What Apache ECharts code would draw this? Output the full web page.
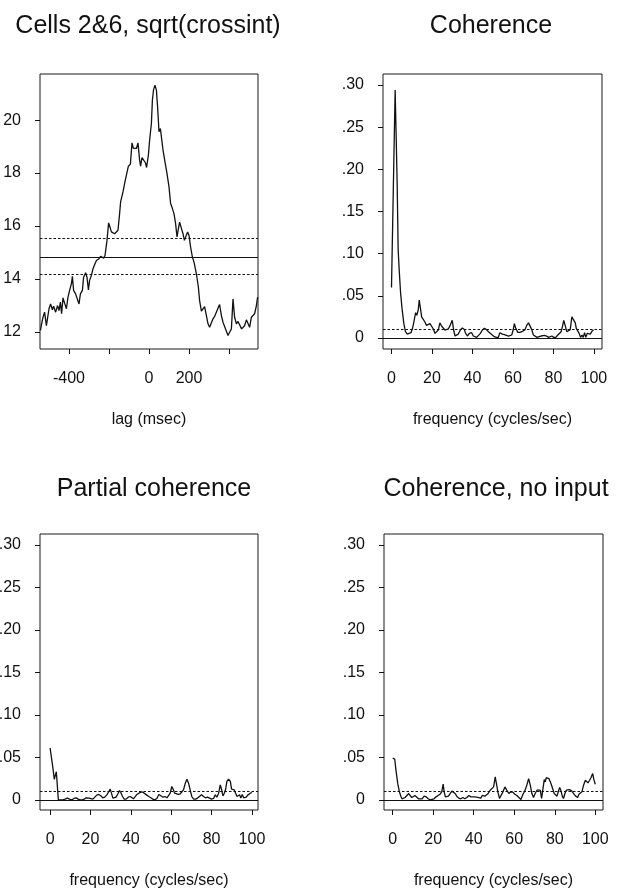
<!DOCTYPE html>
<html>
<head>
<meta charset="utf-8">
<script src="https://cdn.jsdelivr.net/npm/echarts@6/dist/echarts.min.js"></script>
<style>
html,body{margin:0;padding:0;background:#fff;}
#chart{width:619px;height:892px;}
</style>
</head>
<body>
<div id="chart"></div>
<script>
// ---------- DATA ----------
const titles = ['Cells 2&6, sqrt(crossint)', 'Coherence', 'Partial coherence', 'Coherence, no input'];
const lagName = 'lag (msec)';
const freqName = 'frequency (cycles/sec)';

// panel 1: sqrt(cross-intensity) vs lag (msec)
const crossint = [
[-543,12.06],[-530,12.56],[-522,12.75],[-513,12.24],[-500,12.88],[-492,13.06],[-483,12.84],[-477,12.98],[-467,12.75],[-457,13.00],
[-450,12.81],[-443,13.13],[-437,12.69],[-430,13.29],[-422,13.09],[-413,12.88],[-405,13.32],[-397,13.57],[-388,13.82],[-383,14.10],
[-377,13.57],[-367,13.44],[-358,13.51],[-350,13.06],[-343,13.44],[-333,13.57],[-327,14.07],[-317,14.24],[-310,14.07],[-303,13.59],
[-297,13.95],[-288,14.14],[-280,14.39],[-270,14.58],[-263,14.70],[-250,14.77],[-242,14.86],[-233,14.92],[-227,14.79],[-220,14.89],
[-210,15.46],[-202,16.12],[-195,15.96],[-188,15.78],[-180,15.84],[-172,15.71],[-163,15.65],[-155,15.84],[-147,16.47],[-142,16.91],
[-130,17.29],[-122,17.60],[-113,17.92],[-103,18.26],[-93,18.34],[-85,19.14],[-78,18.93],[-70,18.99],[-63,18.93],[-55,19.14],
[-47,18.49],[-42,18.26],[-35,18.58],[-27,18.51],[-18,18.39],[-12,18.21],[-3,18.68],[3,19.24],[12,19.87],[17,20.76],
[23,21.16],[30,21.32],[37,21.13],[43,20.50],[50,19.56],[57,19.68],[63,19.62],[70,18.87],[80,18.42],[90,17.98],
[100,17.48],[108,16.85],[117,16.66],[125,16.47],[133,16.09],[140,15.59],[147,15.90],[153,16.15],[162,16.19],[170,15.71],
[177,15.46],[185,15.52],[193,15.78],[200,15.65],[208,15.21],[217,14.83],[225,14.64],[237,14.20],[247,13.69],[253,13.19],
[262,12.79],[270,12.79],[278,12.96],[287,12.62],[295,12.31],[303,12.18],[312,12.18],[320,12.50],[328,12.59],[337,12.53],
[347,12.94],[353,13.04],[362,12.62],[370,12.37],[378,12.31],[387,12.03],[395,11.87],[403,11.99],[412,12.12],[420,13.25],
[428,12.56],[437,12.31],[445,12.40],[453,12.37],[463,12.12],[472,12.12],[478,12.24],[487,12.46],[495,12.41],[503,12.18],
[512,12.56],[520,12.52],[528,12.69],[537,13.00],[543,13.32]
];
const crossMean = 14.84;
const crossBand = [14.18, 15.54];

// panel 2: coherence vs frequency
const coherence = [
[0,0.060],[1.8,0.294],[2.3,0.240],[2.8,0.183],[3.3,0.104],[3.8,0.081],[4.5,0.053],[5.3,0.033],[6.1,0.017],[6.9,0.0075],
[7.8,0.0047],[8.7,0.0047],[9.6,0.0063],[10.4,0.0115],[11.2,0.021],[11.9,0.030],[12.5,0.027],[13.2,0.033],[13.7,0.045],[14.2,0.037],
[14.9,0.025],[15.7,0.023],[16.5,0.019],[17.3,0.015],[18.2,0.017],[19.0,0.017],[19.8,0.017],[20.6,0.011],[21.5,0.0055],[22.3,0.0032],
[23.1,0.0095],[23.9,0.018],[24.8,0.014],[25.6,0.016],[26.4,0.0095],[27.2,0.0075],[28.1,0.011],[29.0,0.015],[30.0,0.021],[30.7,0.0095],
[31.4,0.0024],[32.2,0.0016],[33.0,0.0047],[34.0,0.0095],[35.0,0.012],[36.0,0.010],[36.6,0.0055],[37.6,0.0024],[38.4,0.0055],[39.6,0.0063],
[40.4,0.0024],[41.3,0.0008],[42.1,0.0008],[42.9,0.0024],[43.9,0.0055],[44.9,0.0095],[45.9,0.0115],[46.9,0.010],[47.9,0.0075],[48.8,0.0055],
[49.8,0.0036],[50.8,0.0016],[51.8,0.0008],[52.8,0.0008],[53.5,0.0063],[54.1,0.0067],[54.8,0.0047],[55.8,0.004],[56.8,0.0032],[57.8,0.0024],
[58.6,0.0008],[59.4,0.0036],[60.1,0.0095],[60.7,0.017],[61.4,0.0115],[62.4,0.0067],[63.4,0.0067],[64.4,0.0075],[65.3,0.0075],[66.0,0.010],
[66.8,0.015],[67.7,0.018],[68.5,0.017],[69.3,0.010],[70.1,0.0036],[71.0,0.0016],[71.9,0.0008],[72.9,0.0016],[73.9,0.0024],[74.8,0.0047],
[75.6,0.0032],[76.6,0.0024],[77.6,0.0008],[78.4,0.0008],[79.2,0.0024],[80.2,0.0008],[81.2,0.0008],[82.2,0.0036],[82.8,0.004],[83.8,0.0075],
[84.5,0.014],[85.1,0.021],[85.8,0.015],[86.6,0.0075],[87.5,0.0055],[88.3,0.010],[89.1,0.025],[89.9,0.026],[90.8,0.018],[91.3,0.0115],
[91.9,0.0115],[92.7,0.0055],[93.4,0.0008],[94.1,0.0036],[94.7,0.0008],[95.4,0.0063],[96.0,0.0008],[96.7,0.0055],[97.4,0.0036],[98.2,0.0047],
[99.0,0.0079],[99.8,0.0095]
];

// panel 3: partial coherence
const partial = [
[0,0.061],[1.3,0.039],[2.1,0.024],[2.6,0.029],[3.1,0.033],[3.6,0.016],[4.1,0],[5.0,0],[6.3,0],[7.4,0.0008],
[8.6,0.002],[9.6,0.0008],[10.7,0],[11.9,0.0016],[12.9,0.0024],[13.9,0.0008],[14.9,0],[15.9,0],[16.9,0.0008],[17.9,0.0024],
[18.5,0.0047],[19.3,0.002],[20.2,0],[21.2,0.0008],[22.1,0.0031],[23.1,0.0055],[24.1,0.0063],[25.1,0.0047],[26.1,0.0024],[27.1,0.0031],
[28.1,0.0059],[29.1,0.0098],[29.8,0.0125],[30.4,0.0078],[31.1,0.002],[31.9,0.0008],[32.7,0.0031],[33.6,0.0071],[34.4,0.011],[35.0,0.0086],
[35.9,0.0039],[36.7,0.0008],[37.7,0.0008],[38.7,0.0031],[39.7,0.0039],[40.5,0.0024],[41.3,0.0012],[42.1,0.0031],[43.0,0.0063],[44.0,0.0078],
[45.0,0.009],[46.0,0.009],[46.9,0.0071],[47.9,0.0055],[48.9,0.0039],[49.9,0.0024],[50.9,0.0008],[51.9,0],[52.9,0.0016],[53.9,0.0063],
[54.9,0.0047],[55.9,0.0031],[56.9,0.0039],[57.9,0.0024],[58.7,0.0039],[59.5,0.0078],[60.3,0.0157],[61.0,0.0125],[61.7,0.0078],[62.5,0.0071],
[63.5,0.0063],[64.5,0.0071],[65.3,0.0086],[66.1,0.0118],[66.9,0.0188],[67.8,0.0243],[68.6,0.0196],[69.4,0.0118],[70.2,0.0039],[71.1,0.0008],
[72.1,0.0008],[73.1,0.002],[74.0,0.0031],[75.0,0.0059],[76.0,0.0039],[77.0,0.0024],[78.0,0.0031],[79.0,0.002],[80.0,0.0008],[81.0,0.0016],
[81.8,0.0059],[82.6,0.0031],[83.5,0.0078],[84.3,0.0176],[85.0,0.0118],[85.6,0.0047],[86.3,0.0078],[86.9,0.0118],[87.6,0.0216],[88.4,0.0243],
[89.3,0.0216],[89.9,0.0125],[90.6,0.0118],[91.2,0.0118],[91.9,0.0078],[92.6,0.0039],[93.2,0.002],[93.9,0.0059],[94.5,0.002],[95.2,0.0063],
[95.9,0.0024],[96.5,0.0047],[97.2,0.0031],[97.9,0.0055],[98.5,0.0071],[99.2,0.0078],[100,0.0086]
];

// panel 4: coherence, no input
const noInput = [
[0,0.049],[1.0,0.048],[1.6,0.035],[2.5,0.019],[3.3,0.0094],[4.0,0.0043],[4.6,0.0012],[5.3,0.0004],[6.1,0.0027],[6.9,0.0043],
[7.9,0.0074],[8.6,0.0051],[9.4,0.0027],[10.2,0.0043],[11.0,0.0051],[11.9,0.0035],[12.7,0.0012],[13.5,0.0004],[14.5,0.0012],[15.5,0.0043],
[16.5,0.0035],[17.5,0.0012],[18.5,0],[19.4,0],[20.4,0.0012],[21.4,0.0035],[22.4,0.0051],[23.4,0.0066],[24.2,0.0094],[24.9,0.0184],
[25.4,0.0094],[26.0,0.0035],[26.7,0.0043],[27.5,0.0043],[28.3,0.0066],[29.2,0.0102],[30.0,0.0098],[30.8,0.0074],[31.6,0.0043],[32.6,0.002],
[33.6,0.0012],[34.6,0.0027],[35.6,0.0012],[36.6,0.0027],[37.6,0.0051],[38.6,0.0035],[39.5,0.0027],[40.5,0.0035],[41.5,0.0031],[42.5,0.0027],
[43.5,0.002],[44.2,0.0051],[44.8,0.0074],[45.5,0.0043],[46.1,0.0035],[47.1,0.0074],[48.1,0.0113],[48.9,0.0113],[49.8,0.0152],[50.6,0.027],
[51.2,0.0191],[51.9,0.0094],[52.7,0.0016],[53.5,0.0035],[54.4,0.0094],[55.4,0.0152],[56.3,0.0113],[57.3,0.0074],[58.3,0.0094],[59.3,0.009],
[60.3,0.0066],[61.3,0.0051],[62.3,0.0027],[63.3,0.0004],[64.3,0.0066],[65.2,0.0105],[66.2,0.0172],[67.1,0.025],[67.9,0.0172],[68.7,0.0074],
[69.5,0.0027],[70.3,0.0074],[71.2,0.0113],[72.0,0.0129],[72.8,0.0113],[73.5,0.0016],[74.1,0.0035],[74.8,0.0238],[75.3,0.0211],[75.8,0.0262],
[76.4,0.0285],[77.1,0.025],[77.8,0.0211],[78.4,0.0172],[79.1,0.0121],[79.7,0.0074],[80.4,0.0055],[81.1,0.0043],[81.7,0.0094],[82.4,0.0145],
[83.0,0.0113],[83.7,0.0043],[84.3,0.0016],[85.0,0.0074],[85.7,0.0113],[86.5,0.0121],[87.3,0.0121],[88.3,0.0105],[89.3,0.0074],[90.3,0.0043],
[91.3,0.0027],[91.9,0.0066],[92.6,0.0051],[93.4,0.0094],[94.2,0.0172],[95.1,0.023],[95.7,0.025],[96.4,0.0199],[97.2,0.023],[97.9,0.0262],
[98.7,0.0309],[99.3,0.0238],[100,0.0184]
];
const cohSignif = [0.007, 0.007, 0.008]; // dotted significance levels (panels 2,3,4)

// tick values / labels
const lagTicks = [-400, -200, 0, 200, 400];
const lagLabels = [-400, 0, 200];
const crossTicks = [12, 14, 16, 18, 20];
const freqTicks = [0, 20, 40, 60, 80, 100];
const cohTicks = [0, 0.05, 0.10, 0.15, 0.20, 0.25, 0.30];
const cohTickLabels = ['0', '.05', '.10', '.15', '.20', '.25', '.30'];

// ---------- CHART ----------
const FONT = '"Liberation Sans", Arial, Helvetica, sans-serif';
const chart = echarts.init(document.getElementById('chart'), null, {renderer: 'canvas'});

const grids = [
  {left: 40, top: 74, width: 218, height: 275},
  {left: 383, top: 74, width: 219, height: 275},
  {left: 40, top: 534, width: 218, height: 276},
  {left: 384, top: 534, width: 219, height: 276}
].map(g => Object.assign({show: true, borderColor: '#1a1a1a', borderWidth: 1, backgroundColor: 'transparent', containLabel: false, outerBoundsMode: 'none'}, g));

const labelStyle = {color: '#111', fontFamily: FONT, fontSize: 16};
function xAxis(i, min, max, ticks, labels, name, fmt) {
  return {
    type: 'value', gridIndex: i, min: min, max: max, position: 'bottom',
    axisLine: {show: false, onZero: false},
    axisTick: {show: true, inside: false, length: 5, customValues: ticks, lineStyle: {color: '#111', width: 1}},
    axisLabel: Object.assign({show: true, margin: 22, customValues: labels, formatter: fmt || (v => String(v))}, labelStyle),
    splitLine: {show: false},
    name: name, nameLocation: 'middle', nameGap: 63,
    nameTextStyle: {color: '#111', fontFamily: FONT, fontSize: 16}
  };
}
function yAxis(i, min, max, ticks, fmt) {
  return {
    type: 'value', gridIndex: i, min: min, max: max, position: 'left',
    axisLine: {show: false, onZero: false},
    axisTick: {show: true, inside: false, length: 5, customValues: ticks, lineStyle: {color: '#111', width: 1}},
    axisLabel: Object.assign({show: true, margin: 19, customValues: ticks, formatter: fmt}, labelStyle),
    splitLine: {show: false}
  };
}
const cohFmt = v => { const k = cohTicks.findIndex(t => Math.abs(t - v) < 1e-9); return k >= 0 ? cohTickLabels[k] : ''; };

const lineStyle = {color: '#111', width: 1.3};
function curve(i, data, marks) {
  return {
    type: 'line', xAxisIndex: i, yAxisIndex: i, data: data,
    showSymbol: false, symbol: 'none', lineStyle: lineStyle, silent: true, animation: false,
    markLine: {silent: true, symbol: 'none', label: {show: false}, animation: false, data: marks}
  };
}
const solid = v => ({yAxis: v, lineStyle: {color: '#111', width: 1.1, type: 'solid'}});
const dotted = v => ({yAxis: v, lineStyle: {color: '#111', width: 1.1, type: [2.5, 2]}});

const option = {
  backgroundColor: '#fff',
  animation: false,
  title: [
    {text: titles[0], left: 143, top: 9},
    {text: titles[1], left: 486, top: 9},
    {text: titles[2], left: 149, top: 472},
    {text: titles[3], left: 491, top: 472}
  ].map(t => Object.assign({textAlign: 'center', textStyle: {color: '#111', fontFamily: FONT, fontSize: 25, fontWeight: 'normal'}}, t)),
  grid: grids,
  xAxis: [
    xAxis(0, -545, 545, lagTicks, lagLabels, lagName),
    xAxis(1, -4.2, 104, freqTicks, freqTicks, freqName),
    xAxis(2, -5, 103, freqTicks, freqTicks, freqName),
    xAxis(3, -4.3, 103.8, freqTicks, freqTicks, freqName)
  ],
  yAxis: [
    yAxis(0, 11.36, 21.74, crossTicks, v => String(v)),
    yAxis(1, -0.013, 0.313, cohTicks, cohFmt),
    yAxis(2, -0.012, 0.313, cohTicks, cohFmt),
    yAxis(3, -0.012, 0.313, cohTicks, cohFmt)
  ],
  series: [
    curve(0, crossint, [solid(crossMean), dotted(crossBand[0]), dotted(crossBand[1])]),
    curve(1, coherence, [solid(0), dotted(cohSignif[0])]),
    curve(2, partial, [solid(0), dotted(cohSignif[1])]),
    curve(3, noInput, [solid(0), dotted(cohSignif[2])])
  ]
};
chart.setOption(option);
</script>
</body>
</html>
